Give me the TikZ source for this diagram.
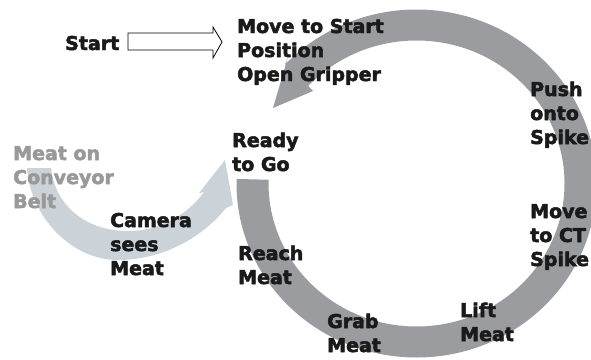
\documentclass[tikz,border=0pt]{standalone}
\usepackage{fontspec}
\setmainfont{DejaVu Sans}[BoldFeatures={FakeBold=2.6}]
\usetikzlibrary{calc}
\definecolor{ringgrey}{HTML}{9A9CA0}
\definecolor{beltgrey}{HTML}{CBD2D8}
\definecolor{labelgrey}{HTML}{999999}
\definecolor{ink}{HTML}{1A1A1A}
\begin{document}
\begin{tikzpicture}[x=1pt,y=-1pt,
  lbl/.style={font=\bfseries\fontsize{19}{24}\selectfont, text=ink, anchor=base west, align=left, inner sep=0pt},
  greylbl/.style={lbl, text=labelgrey},
  blockarrow/.style={draw=black, line width=0.8pt, fill=white}]
\useasboundingbox (0,0) rectangle (591,359);
\clip (0,0) rectangle (591,359);
\coordinate (rc) at (416.5,183.5);
% big cycle arrow
\fill[ringgrey] ($(rc)+(181.5:180 and 174)$)
  arc[start angle=181.5, end angle=-137, x radius=180, y radius=174]
  -- (288,57) -- (273,108) -- (313,91)
  -- ($(rc)+(-137:148 and 143)$)
  arc[start angle=-137, end angle=181.5, x radius=148, y radius=143] -- cycle;
% conveyor arrow
\fill[beltgrey] (27,168) .. controls (30,215) and (70,260) .. (118,260)
  .. controls (162,260) and (202,238) .. (226,208)
  -- (233,205) -- (225,160) -- (199,193) -- (204,192)
  .. controls (185,218) and (155,232) .. (125,231)
  .. controls (85,230) and (55,205) .. (51,168) -- cycle;
% start block arrow
\draw[blockarrow] (128,33) -- (213,33) -- (213,27) -- (222,42) -- (213,58) -- (213,50) -- (128,50) -- cycle;
% labels (anchor = baseline of last line)
\node[lbl] (start) at (65,50) {Start};
\node[lbl] (move) at (237,81) {Move to Start\\Position\\Open Gripper};
\node[lbl] (ready) at (232,171) {Ready\\to Go};
\node[lbl] (push) at (530,144) {Push\\onto\\Spike};
\node[greylbl] (belt) at (13,208) {Meat on\\Conveyor\\Belt};
\node[lbl] (camera) at (110,275) {Camera\\sees\\Meat};
\node[lbl] (reach) at (238,284) {Reach\\Meat};
\node[lbl] (movect) at (530,266) {Move\\to CT\\Spike};
\node[lbl] (grab) at (327,352) {Grab\\Meat};
\node[lbl] (lift) at (460,341) {Lift\\Meat};
\end{tikzpicture}
\end{document}
